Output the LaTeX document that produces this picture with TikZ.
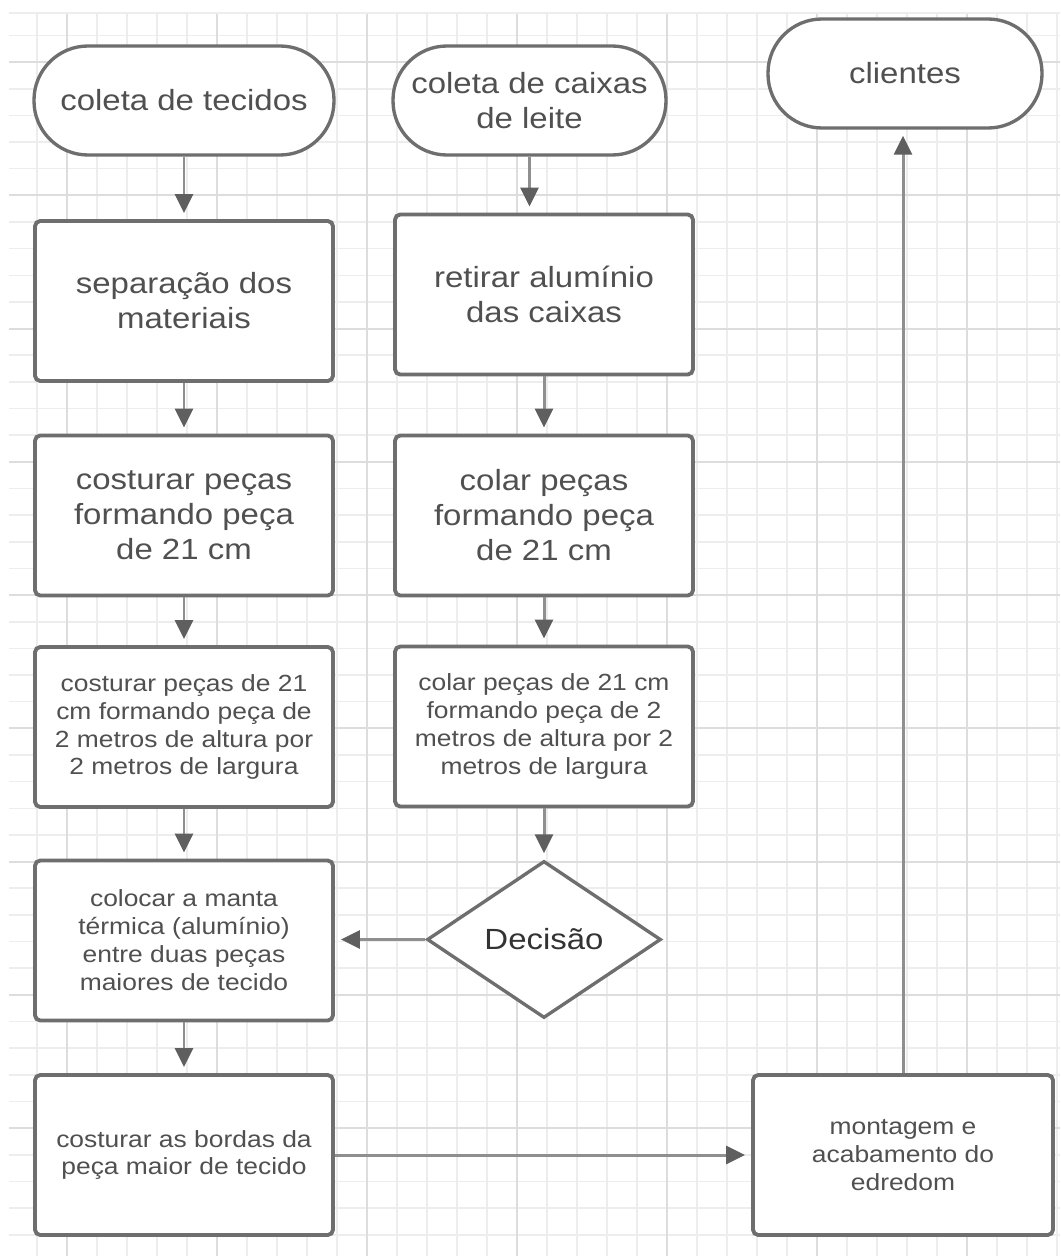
\documentclass[tikz,border=0pt]{standalone}
\usepackage{fontspec}
\setmainfont[FakeStretch=1.13]{Liberation Sans}
\usetikzlibrary{arrows.meta,shapes.geometric}

\definecolor{gridlight}{HTML}{EDEDED}
\definecolor{griddark}{HTML}{DDDDDD}
\definecolor{boxline}{HTML}{6E6E6E}
\definecolor{arrowline}{HTML}{8F8F8F}
\definecolor{arrowhead}{HTML}{5F5F5F}
\definecolor{textgray}{HTML}{505050}

\newcommand{\bigtext}{\fontsize{16.6}{19.9}\selectfont}
\newcommand{\smalltext}{\fontsize{13.3}{15.9}\selectfont}

\tikzset{
    gridline/.style={draw=gridlight, line width=0.9pt},
    gridmajor/.style={draw=griddark, line width=1.1pt},
    terminal/.style={draw=boxline, line width=1.9pt, fill=white, rounded corners=1.08cm,
        minimum height=2.18cm, text=textgray, align=center, font=\bigtext},
    process/.style={draw=boxline, line width=2.2pt, fill=white, rounded corners=3pt,
        minimum width=5.96cm, minimum height=3.2cm, text=textgray, align=center, font=\bigtext},
    smallprocess/.style={process, font=\smalltext},
    decision/.style={diamond, draw=boxline, line width=1.9pt, fill=white, minimum width=4.68cm,
        minimum height=3.14cm, inner sep=0pt, text=black!80, font=\bigtext},
    flow/.style={draw=arrowline, line width=1.7pt,
        -{Triangle[length=0.38cm, width=0.36cm, color=arrowhead]}, shorten >=0.12cm},
}

\begin{document}
\begin{tikzpicture}[x=0.2cm, y=-0.2cm]
    \useasboundingbox (0,0) rectangle (106,125.6);
    \fill[white] (0,0) rectangle (106,125.6);

    \foreach \i in {1,...,35}
        \draw[gridline] ({0.7+3*\i},1.3) -- ({0.7+3*\i},125.6);
    \foreach \j in {1,...,46}
        \draw[gridline] (0.9,{0.88+2.665*\j}) -- (106,{0.88+2.665*\j});
    \foreach \i in {2,7,...,32}
        \draw[gridmajor] ({0.7+3*\i},1.3) -- ({0.7+3*\i},125.6);
    \foreach \j in {2,7,...,42}
        \draw[gridmajor] (0.9,{0.88+2.665*\j}) -- (106,{0.88+2.665*\j});
    \draw[gridline] (0.9,1.3) -- (106,1.3);

    \node[terminal, minimum width=6cm] (tec) at (18.4,10.05) {coleta de tecidos};
    \node[terminal, minimum width=5.46cm] (cai) at (52.95,10.05) {coleta de caixas\\de leite};
    \node[terminal, minimum width=5.48cm] (cli) at (90.5,7.35) {clientes};

    \node[process] (sep) at (18.4,30.1) {separação dos\\materiais};
    \node[process] (ret) at (54.4,29.45) {retirar alumínio\\das caixas};
    \node[process] (cos1) at (18.4,51.55) {costurar peças\\formando peça\\de 21 cm};
    \node[process] (col1) at (54.4,51.55) {colar peças\\formando peça\\de 21 cm};
    \node[smallprocess] (cos2) at (18.4,72.7) {costurar peças de 21\\cm formando peça de\\2 metros de altura por\\2 metros de largura};
    \node[smallprocess] (col2) at (54.4,72.65) {colar peças de 21 cm\\formando peça de 2\\metros de altura por 2\\metros de largura};
    \node[smallprocess] (man) at (18.4,94.05) {colocar a manta\\térmica (alumínio)\\entre duas peças\\maiores de tecido};
    \node[decision] (dec) at (54.4,93.95) {Decisão};
    \node[smallprocess] (bor) at (18.4,115.5) {costurar as bordas da\\peça maior de tecido};
    \node[smallprocess, minimum width=6cm] (mon) at (90.3,115.5) {montagem e\\acabamento do\\edredom};

    \draw[flow] (tec) -- (sep);
    \draw[flow] (sep) -- (cos1);
    \draw[flow] (cos1) -- (cos2);
    \draw[flow] (cos2) -- (man);
    \draw[flow] (man) -- (bor);
    \draw[flow] (cai.south) -- (cai.south |- ret.north);
    \draw[flow] (ret) -- (col1);
    \draw[flow] (col1) -- (col2);
    \draw[flow] (col2) -- (dec);
    \draw[flow] (dec.west) -- (dec.west -| man.east);
    \draw[flow] (bor) -- (mon);
    \draw[flow] (mon) -- (mon |- cli.south);
\end{tikzpicture}
\end{document}
